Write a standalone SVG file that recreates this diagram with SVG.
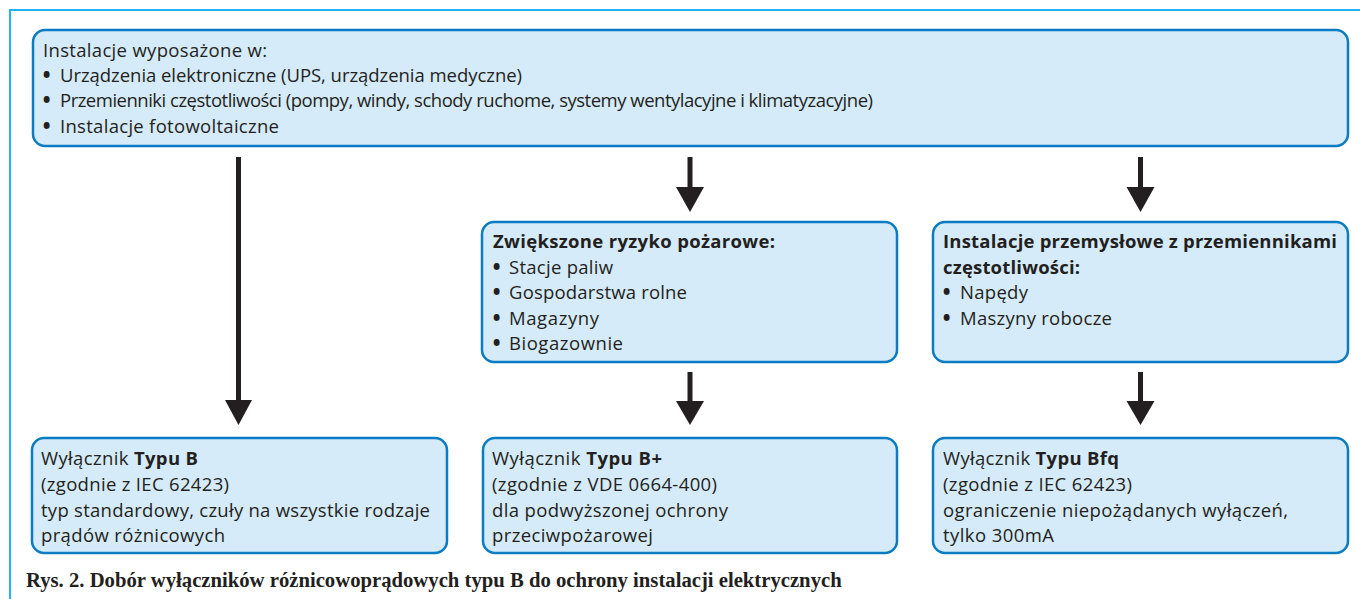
<svg xmlns="http://www.w3.org/2000/svg" width="1360" height="599" viewBox="0 0 1360 599">
<style>
.box{fill:#d5ebf9;stroke:#0b7cc2;stroke-width:2.5}
.t{font-family:"Open Sans","Liberation Sans",Arial,sans-serif;font-size:18.5px;fill:#231f20}
.bl{font-family:"Open Sans","Liberation Sans",Arial,sans-serif;font-size:18.5px;font-weight:800;fill:#231f20}
.b{font-weight:bold}
.cap{font-family:"Liberation Serif","Times New Roman",serif;font-size:20.7px;font-weight:bold;fill:#231f20}
.shaft{stroke:#231f20;stroke-width:5;fill:none}
.head{fill:#231f20}
</style>
<rect width="1360" height="599" fill="#ffffff"/>
<g id="frame">
<path d="M10,599 V10 H1360" fill="none" stroke="#1fb4ef" stroke-width="2"/>
</g>
<g id="n-top">
<rect class="box" x="33" y="30" width="1315" height="116" rx="12"/>
<text class="t" x="43" y="57" textLength="224">Instalacje wyposażone w:</text>
<text class="bl" x="43" y="82">•</text>
<text class="t" x="60" y="82" textLength="462">Urządzenia elektroniczne (UPS, urządzenia medyczne)</text>
<text class="bl" x="43" y="107">•</text>
<text class="t" x="60" y="107" textLength="813">Przemienniki częstotliwości (pompy, windy, schody ruchome, systemy wentylacyjne i klimatyzacyjne)</text>
<text class="bl" x="43" y="133">•</text>
<text class="t" x="60" y="133" textLength="219">Instalacje fotowoltaiczne</text>
</g>
<g id="n-fire">
<rect class="box" x="482" y="222" width="415" height="140" rx="12"/>
<text class="t b" x="493" y="248" textLength="282">Zwiększone ryzyko pożarowe:</text>
<text class="bl" x="493" y="273.5">•</text>
<text class="t" x="509" y="273.5" textLength="104">Stacje paliw</text>
<text class="bl" x="493" y="299">•</text>
<text class="t" x="509" y="299" textLength="178">Gospodarstwa rolne</text>
<text class="bl" x="493" y="324.5">•</text>
<text class="t" x="509" y="324.5" textLength="90">Magazyny</text>
<text class="bl" x="493" y="350">•</text>
<text class="t" x="509" y="350" textLength="114">Biogazownie</text>
</g>
<g id="n-ind">
<rect class="box" x="933" y="222" width="415" height="140" rx="12"/>
<text class="t b" x="943" y="248" textLength="394">Instalacje przemysłowe z przemiennikami</text>
<text class="t b" x="943" y="273.5" textLength="137">częstotliwości:</text>
<text class="bl" x="943" y="299">•</text>
<text class="t" x="960" y="299" textLength="68">Napędy</text>
<text class="bl" x="943" y="324.5">•</text>
<text class="t" x="960" y="324.5" textLength="152">Maszyny robocze</text>
</g>
<g id="n-b">
<rect class="box" x="32" y="438" width="415" height="115" rx="12"/>
<text class="t" x="41" y="465" textLength="157">Wyłącznik <tspan class="b">Typu B</tspan></text>
<text class="t" x="41" y="491" textLength="188">(zgodnie z IEC 62423)</text>
<text class="t" x="41" y="517" textLength="389">typ standardowy, czuły na wszystkie rodzaje</text>
<text class="t" x="41" y="542" textLength="184">prądów różnicowych</text>
</g>
<g id="n-bplus">
<rect class="box" x="483" y="438" width="414" height="115" rx="12"/>
<text class="t" x="492" y="465" textLength="170">Wyłącznik <tspan class="b">Typu B+</tspan></text>
<text class="t" x="492" y="491" textLength="225">(zgodnie z VDE 0664-400)</text>
<text class="t" x="492" y="517" textLength="236">dla podwyższonej ochrony</text>
<text class="t" x="492" y="542" textLength="161">przeciwpożarowej</text>
</g>
<g id="n-bfq">
<rect class="box" x="933" y="438" width="415" height="115" rx="12"/>
<text class="t" x="943" y="465" textLength="176">Wyłącznik <tspan class="b">Typu Bfq</tspan></text>
<text class="t" x="943" y="491" textLength="189">(zgodnie z IEC 62423)</text>
<text class="t" x="943" y="517" textLength="345">ograniczenie niepożądanych wyłączeń,</text>
<text class="t" x="943" y="542" textLength="111">tylko 300mA</text>
</g>
<g id="connectors">
<line class="shaft" x1="238.5" y1="157" x2="238.5" y2="402"/>
<polygon class="head" points="225,400 252,400 238.5,425"/>
<line class="shaft" x1="690" y1="157" x2="690" y2="189"/>
<polygon class="head" points="676,187 704,187 690,212"/>
<line class="shaft" x1="1140.5" y1="157" x2="1140.5" y2="189"/>
<polygon class="head" points="1126.5,187 1154.5,187 1140.5,212"/>
<line class="shaft" x1="690" y1="372" x2="690" y2="403"/>
<polygon class="head" points="676,401 704,401 690,425"/>
<line class="shaft" x1="1140.5" y1="372" x2="1140.5" y2="403"/>
<polygon class="head" points="1126.5,401 1154.5,401 1140.5,425"/>
</g>
<text class="cap" x="26" y="587">Rys. 2. Dobór wyłączników różnicowoprądowych typu B do ochrony instalacji elektrycznych</text>
</svg>
